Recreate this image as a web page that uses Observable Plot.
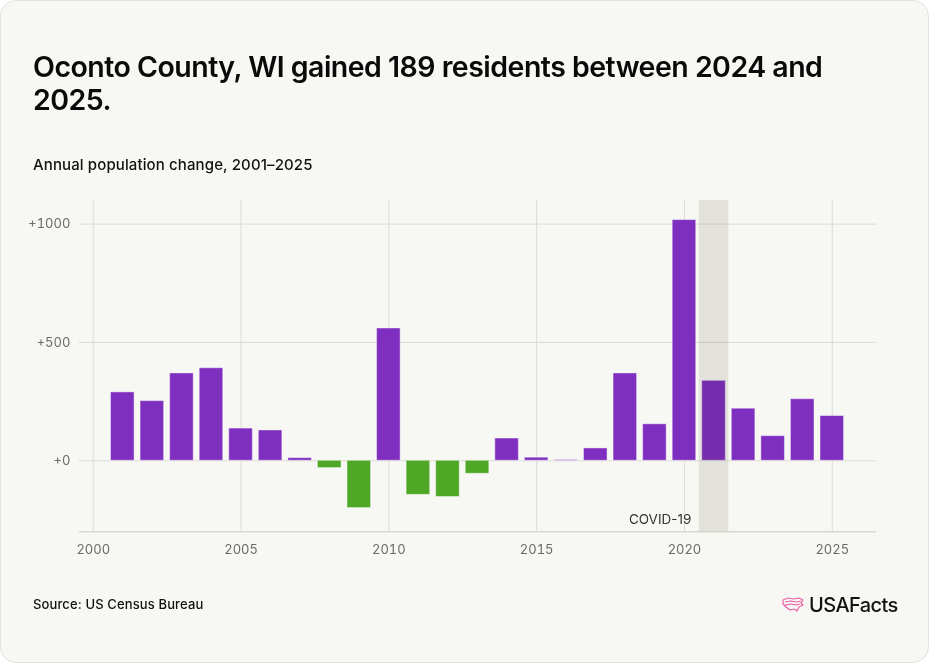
<!DOCTYPE html>
<html><head><meta charset="utf-8">
<script src="https://cdn.jsdelivr.net/npm/d3@7"></script>
<script src="https://cdn.jsdelivr.net/npm/@observablehq/plot@0.6"></script>
<style>
html,body{margin:0;padding:0;background:#ffffff;}
body{font-family:Inter,"Noto Sans",sans-serif;width:929px;height:663px;position:relative;overflow:hidden}
#card{position:absolute;left:0;top:0;width:927px;height:661px;border:1px solid #e2e2dd;border-radius:16px;background:#f7f7f3;overflow:hidden}
#title{position:absolute;left:32px;top:49px;font-size:28.5px;font-weight:600;line-height:33px;letter-spacing:-0.018em;color:#0a0a0a;margin:0;white-space:nowrap}
#subtitle{position:absolute;left:32px;top:154px;font-size:15px;font-weight:500;letter-spacing:0.008em;color:#111}
#chart{position:absolute;left:0;top:180px}
#source{position:absolute;left:32px;top:595px;font-size:13px;font-weight:500;letter-spacing:0.01em;color:#111}
#logo{position:absolute;left:781px;top:592px;display:flex;align-items:center;gap:4px}
#logo span{font-size:20px;font-weight:500;letter-spacing:-0.03em;color:#111}
</style>
</head><body>
<div id="card">
  <div id="title">Oconto County, WI gained 189 residents between 2024 and<br>2025.</div>
  <div id="subtitle">Annual population change, 2001–2025</div>
  <div id="chart"></div>
  <div id="source">Source: US Census Bureau</div>
  <div id="logo">
    <svg width="23" height="16" viewBox="0 0 23 16"><path d="M1 3 L6 1 L12 2 L17 1 L21 3 L19 6 L21 8 L17 10 L15 14 L12 12 L8 13 L4 10 L1 7 Z M3 5 L9 4 L14 5 L19 4 M3 8 L9 7 L14 8 L18 7" fill="none" stroke="#ec5fa8" stroke-width="1.2" stroke-linejoin="round"/></svg>
    <span>USAFacts</span>
  </div>
</div>
<script>
const years = [2001,2002,2003,2004,2005,2006,2007,2008,2009,2010,2011,2012,2013,2014,2015,2016,2017,2018,2019,2020,2021,2022,2023,2024,2025];
const changes = [289,252,369,391,136,128,11,-31,-200,559,-144,-153,-55,94,13,3,52,369,154,1017,338,220,104,260,189];
const xTicks = [2000,2005,2010,2015,2020,2025];
const yTicks = [0,500,1000];
const covidYear = 2021;
const covidLabel = "COVID-19";

const purple = "#7f2fbf";
const green = "#4fa726";
const data = years.map((y,i)=>({year:y, value:changes[i]}));
const yMin = -300, yMax = 1100;

const chart = Plot.plot({
  width: 929, height: 391,
  marginLeft: 78, marginRight: 52, marginTop: 19, marginBottom: 40,
  style: {background:"transparent", fontFamily:"Inter, 'Noto Sans', sans-serif", fontSize:"13px", color:"#6b6b6b"},
  x: {domain:[1999.53, 2026.5], ticks: xTicks, tickFormat: d=>String(d), tickSize:0, tickPadding:13, label:null},
  y: {domain:[yMin, yMax], ticks: yTicks, tickFormat: d=>"+"+d, tickSize:0, tickPadding:9, label:null},
  marks: [
    Plot.ruleX(xTicks, {stroke:"#dcdcd7", strokeWidth:1}),
    Plot.ruleY(yTicks, {stroke:"#dcdcd7", strokeWidth:1}),
    Plot.ruleY([yMin], {stroke:"#d8d8d3", strokeWidth:1.5}),
    Plot.rectY(data, {x1:d=>d.year-0.5, x2:d=>d.year+0.5, y1:0, y2:"value",
      fill:d=>d.value>=0?purple:green, stroke:"#ffffff", strokeOpacity:0.45, strokeWidth:1,
      insetLeft:3, insetRight:3}),
    Plot.rect([covidYear], {x1:d=>d-0.5, x2:d=>d+0.5, y1:yMin, y2:yMax, fill:"#ebebe7", mixBlendMode:"multiply"}),
    Plot.text([covidLabel], {x:covidYear-0.5, y:-248, text:d=>d, textAnchor:"end", dx:-8, fill:"#333", fontSize:13.5})
  ]
});
document.getElementById("chart").appendChild(chart);
</script>
</body></html>
